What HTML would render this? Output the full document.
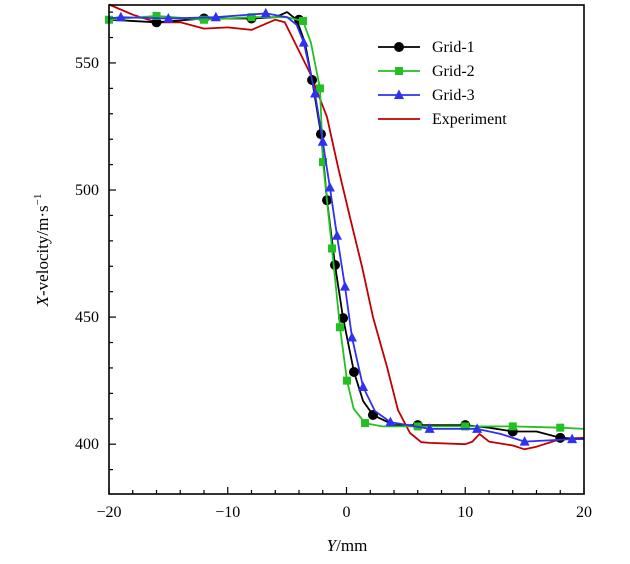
<!DOCTYPE html>
<html><head><meta charset="utf-8"><style>
body{margin:0;background:#fff}
svg text{font-family:"Liberation Serif",serif;fill:#000}
</style></head><body>
<svg width="630" height="559" id="c">
<g id="plot"></g>
</svg>
<script>
const xTicks=[-20,-10,0,10,20];
const yTicks=[400,450,500,550];
const g1x=[-16,-12,-8,-4,-2.9,-2.15,-1.64,-0.97,-0.29,0.63,2.23,6,10,14,18];
const g1y=[566,567.5,567.5,567,543.3,522,496,470.5,449.6,428.4,411.5,407.5,407.5,405,402.5];
const g1lx=[-20,-16,-12,-8,-6,-5,-4.2,-3.5,-2.9,-2.15,-1.64,-0.97,-0.29,0.63,1.4,2.23,4,6,10,12,14,16,18,20];
const g1ly=[567,566,567.5,567.5,568,570,567,558,543.3,522,496,470.5,449.6,428.4,417,411.5,407.5,407.5,407.5,406.5,405,405,402.5,402];
const g2x=[-20,-16,-12,-8,-3.66,-2.23,-1.98,-1.22,-0.55,0.04,1.56,6,10,14,18];
const g2y=[567,568.5,567,568,566.5,540,511,477,446,425,408.3,407,407,407,406.5];
const g2lx=[-20,-16,-12,-8,-5,-3.66,-3,-2.23,-1.98,-1.22,-0.55,0.04,0.6,1.56,3,6,10,14,18,20];
const g2ly=[567,568.5,567,568,568,566.5,558,540,511,477,446,425,414,408.3,407,407,407,407,406.5,406];
const g3x=[-19,-15,-11,-6.8,-3.6,-2.65,-2,-1.4,-0.8,-0.13,0.46,1.4,3.7,7,11,15,19];
const g3y=[568,567.5,568,569.5,558,538,519,501,482,462,442,422.5,408.7,406,406,401,402];
const g3lx=[-20,-19,-15,-11,-6.8,-5,-4.2,-3.6,-2.65,-2,-1.4,-0.8,-0.13,0.46,1.4,2.4,3.7,7,11,13,15,19,20];
const g3ly=[567.5,568,567.5,568,569.5,568,565,558,538,519,501,482,462,442,422.5,413,408.7,406,406,404,401,402,402];
const ex=[-20,-18,-16,-14,-12,-10,-8,-6,-5.2,-4.75,-3.07,-1.64,-0.72,0.29,1.31,2.23,3.41,4.34,5.35,6.3,7,10,10.6,11.2,12,14,15,16,18,20];
const ey=[573,569,566,566,563.5,564,563,567,566,561.8,546,528.7,509.1,489.4,469.7,450,430.4,413.4,404.4,400.8,400.5,400,401,404,401,399.5,398,399,402,402.5];
const L=109,R=584,T=5,B=494,xmin=-20,xmax=20,ymin=380.4,ymax=572.8;
const X=v=>L+(v-xmin)/(xmax-xmin)*(R-L);
const Y=v=>B-(v-ymin)/(ymax-ymin)*(B-T);
const NS="http://www.w3.org/2000/svg";
const p=document.getElementById('plot');
function mk(t,a){const e=document.createElementNS(NS,t);for(const k in a)e.setAttribute(k,a[k]);p.appendChild(e);return e;}
for(let v=-20;v<=20;v+=2){const big=v%10===0,len=big?7:4;
const t=mk('line',{x1:X(v),x2:X(v),y1:B,y2:B-len,stroke:'#000','stroke-width':1.2});

}
for(let v=390;v<=570;v+=10){const big=v%50===0,len=big?7:4;
const t=mk('line',{x1:L,x2:L+len,y1:Y(v),y2:Y(v),stroke:'#000','stroke-width':1.2});

}
xTicks.forEach(v=>{const t=mk('text',{x:X(v),y:B+23,'text-anchor':'middle','font-size':16});t.textContent=v<0?'−'+(-v):v;

});
yTicks.forEach(v=>{const t=mk('text',{x:L-10,y:Y(v)+5,'text-anchor':'end','font-size':16});t.textContent=v;

});
function line(xs,ys,c,name){const d=xs.map((x,i)=>(i?'L':'M')+X(x).toFixed(1)+','+Y(ys[i]).toFixed(1)).join('');
const e=mk('path',{d:d,fill:'none',stroke:c,'stroke-width':1.8,'stroke-linejoin':'round'});

}
function markers(xs,ys,c,shape,name){xs.forEach((x,i)=>{const cx=X(x),cy=Y(ys[i]);let e;
if(shape==='c')e=mk('circle',{cx:cx,cy:cy,r:5,fill:c});
else if(shape==='s')e=mk('rect',{x:cx-4,y:cy-4,width:8,height:8,fill:c});
else e=mk('polygon',{points:`${cx},${cy-5.5} ${cx-5},${cy+4} ${cx+5},${cy+4}`,fill:c});

});}
line(ex,ey,'#c00000','experiment-line');
line(g1lx,g1ly,'#000','grid-1-line');markers(g1x,g1y,'#000','c','grid-1-marker');
line(g2lx,g2ly,'#22c022','grid-2-line');markers(g2x,g2y,'#22c022','s','grid-2-marker');
line(g3lx,g3ly,'#3030f0','grid-3-line');markers(g3x,g3y,'#3030f0','t','grid-3-marker');
const fr=mk('rect',{x:L,y:T,width:R-L,height:B-T,fill:'none',stroke:'#000','stroke-width':1.6});


const leg=[['Grid-1','#000','c'],['Grid-2','#22c022','s'],['Grid-3','#3030f0','t'],['Experiment','#c00000','n']];
leg.forEach((l,i)=>{const y=47+i*24;
const ln=mk('line',{x1:378,x2:420,y1:y,y2:y,stroke:l[1],'stroke-width':1.8});


let m;const cx=399;
if(l[2]==='c')m=mk('circle',{cx:cx,cy:y,r:5,fill:l[1]});
else if(l[2]==='s')m=mk('rect',{x:cx-4,y:y-4,width:8,height:8,fill:l[1]});
else if(l[2]==='t')m=mk('polygon',{points:`${cx},${y-5.5} ${cx-5},${y+4} ${cx+5},${y+4}`,fill:l[1]});
if(m){
}
const t=mk('text',{x:432,y:y+5,'font-size':16});t.textContent=l[0];

});
</script>
<svg width="630" height="559" style="position:absolute;left:0;top:0">
<text x="347" y="551" text-anchor="middle" font-size="17"><tspan font-style="italic">Y</tspan>/mm</text>
<text transform="translate(48,250) rotate(-90)" text-anchor="middle" font-size="17"><tspan font-style="italic">X</tspan>-velocity/m·s<tspan font-size="11" dy="-7">−1</tspan></text>
</svg>
</body></html>
